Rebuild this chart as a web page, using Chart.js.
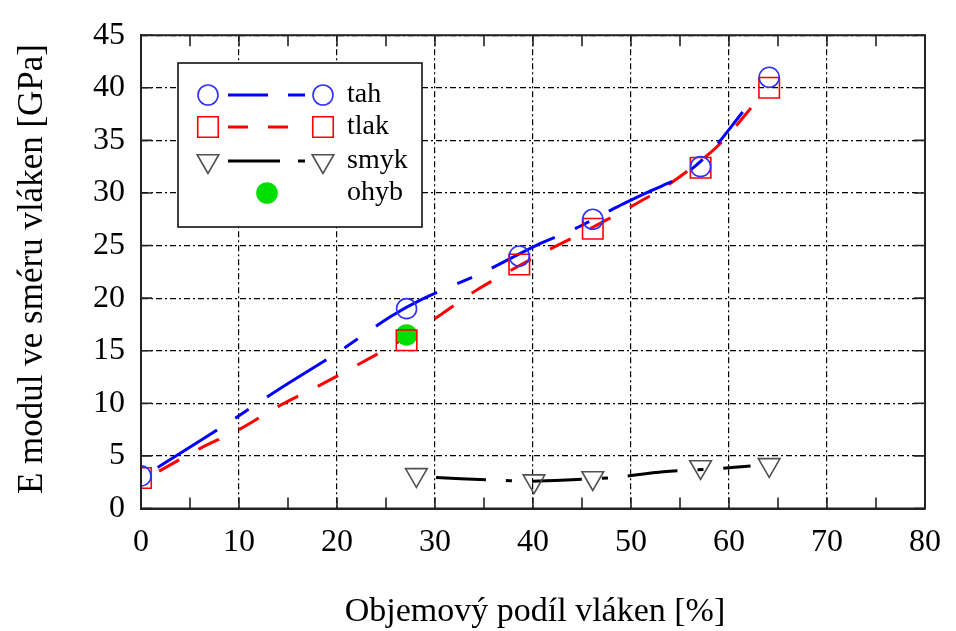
<!DOCTYPE html>
<html>
<head>
<meta charset="utf-8">
<script src="https://cdn.jsdelivr.net/npm/chart.js@4.4.1/dist/chart.umd.min.js"></script>
<style>
    html, body { margin: 0; padding: 0; background: #fff; }
</style>
</head>
<body>
<canvas id="myChart" width="956" height="631"></canvas>
<script>
// measured points
const tahX = [0, 27.1, 38.6, 46.1, 57.1, 64.1];
const tahY = [3.1, 19.0, 24.0, 27.5, 32.5, 41.0];
const tlakX = [0, 27.1, 38.6, 46.1, 57.1, 64.1];
const tlakY = [2.9, 16.0, 23.2, 26.6, 32.4, 40.0];
const smykX = [28.1, 40.1, 46.1, 57.1, 64.1];
const smykY = [3.2, 2.6, 2.9, 3.95, 4.15];
const ohybX = [27.1];
const ohybY = [16.5];

// fitted curves
const tahFitX = [1.7, 8, 14, 20, 25.4, 28.7, 35, 40.3, 44.3, 48, 52, 55.2, 58.2, 61.4];
const tahFitY = [3.9, 7.6, 11.3, 14.8, 18.2, 19.9, 22.5, 25.0, 26.6, 28.4, 30.2, 31.6, 34.0, 37.7];
const tlakFitX = [1.85, 6, 10, 14, 18, 22, 26, 30.7, 34.3, 40.4, 45, 50, 54, 58.2, 60, 62.7];
const tlakFitY = [3.55, 5.7, 7.5, 9.7, 11.6, 13.6, 15.7, 18.5, 20.8, 24.0, 26.2, 28.7, 30.9, 33.9, 35.6, 38.6];
const smykFitX = [30.1, 35.2, 40, 44, 48.1, 53.3, 59, 62.2];
const smykFitY = [2.94, 2.73, 2.6, 2.73, 2.94, 3.5, 3.8, 4.03];

const xTitle = 'Objemový podíl vláken [%]';
const yTitle = 'E modul ve sméru vláken [GPa]';
const serif = "'Liberation Serif', 'Times New Roman', serif";

function toPts(xs, ys) {
    return xs.map(function (x, i) { return { x: x, y: ys[i] }; });
}

function markerSet(label, xs, ys, style, color, fill, radius, rotation) {
    return {
        label: label,
        data: toPts(xs, ys),
        showLine: false,
        pointStyle: style,
        pointRadius: radius,
        pointRotation: rotation || 0,
        pointBorderColor: color,
        pointBackgroundColor: fill,
        pointBorderWidth: 1.6,
        clip: 0,
        order: 1
    };
}

function fitSet(label, xs, ys, color, dash) {
    return {
        label: label,
        data: toPts(xs, ys),
        showLine: true,
        borderColor: color,
        borderWidth: 3,
        borderDash: dash,
        tension: 0.3,
        pointRadius: 0,
        order: 5
    };
}

const data = {
    datasets: [
        markerSet('tah', tahX, tahY, 'circle', '#3030ff', 'rgba(0,0,0,0)', 10),
        markerSet('tlak', tlakX, tlakY, 'rect', '#ff0000', 'rgba(0,0,0,0)', 14.5),
        markerSet('smyk', smykX, smykY, 'triangle', '#505050', 'rgba(0,0,0,0)', 12.5, 180),
        markerSet('ohyb', ohybX, ohybY, 'circle', '#00e000', '#00e000', 10),
        fitSet('tahFit', tahFitX, tahFitY, '#0000ff', [70, 22, 16, 22]),
        fitSet('tlakFit', tlakFitX, tlakFitY, '#ff0000', [23, 22]),
        fitSet('smykFit', smykFitX, smykFitY, '#000000', [50, 20, 6, 20])
    ]
};

// keep markers inside the plot box (points at x = 0 get cut by the axis)
const clipPlugin = {
    id: 'clipToArea',
    beforeDatasetDraw: function (chart) {
        const a = chart.chartArea;
        chart.ctx.save();
        chart.ctx.beginPath();
        chart.ctx.rect(a.left, a.top, a.right - a.left, a.bottom - a.top);
        chart.ctx.clip();
    },
    afterDatasetDraw: function (chart) {
        chart.ctx.restore();
    }
};

// frame, inner ticks, axis titles
const framePlugin = {
    id: 'frame',
    afterDatasetsDraw: function (chart) {
        const ctx = chart.ctx;
        const a = chart.chartArea;
        const xs = chart.scales.x;
        const ys = chart.scales.y;
        ctx.save();
        ctx.strokeStyle = '#222';
        ctx.lineWidth = 1.6;
        ctx.setLineDash([]);
        ctx.beginPath();
        for (let v = 0; v <= 80; v += 5) {
            const px = xs.getPixelForValue(v);
            const len = 11;
            ctx.moveTo(px, a.bottom); ctx.lineTo(px, a.bottom - len);
            ctx.moveTo(px, a.top); ctx.lineTo(px, a.top + len);
        }
        for (let v = 0; v <= 45; v += 5) {
            const py = ys.getPixelForValue(v);
            ctx.moveTo(a.left, py); ctx.lineTo(a.left + 11, py);
            ctx.moveTo(a.right, py); ctx.lineTo(a.right - 11, py);
        }
        ctx.stroke();
        ctx.lineWidth = 2;
        ctx.strokeRect(a.left, a.top, a.right - a.left, a.bottom - a.top);
        ctx.restore();
    },
    afterDraw: function (chart) {
        const ctx = chart.ctx;
        ctx.save();
        ctx.fillStyle = '#000';
        ctx.textAlign = 'center';
        ctx.textBaseline = 'middle';
        ctx.font = '34px ' + serif;
        ctx.fillText(xTitle, 535, 612);
        ctx.translate(33, 269);
        ctx.rotate(-Math.PI / 2);
        ctx.font = '35px ' + serif;
        ctx.fillText(yTitle, 0, 0);
        ctx.restore();
    }
};

// legend box inside the plot, like the original
const legendDash = [[40, 20, 17, 100], [20, 20, 20, 100], [52, 18, 7, 100]];

const boxLegend = {
    id: 'boxLegend',
    afterDraw: function (chart) {
        const ctx = chart.ctx;
        const ds = chart.data.datasets;
        const rows = [
            { m: ds[0], f: ds[4], y: 95 },
            { m: ds[1], f: ds[5], y: 127 },
            { m: ds[2], f: ds[6], y: 161 },
            { m: ds[3], f: null, y: 193 }
        ];
        ctx.save();
        ctx.fillStyle = '#fff';
        ctx.fillRect(178, 63, 244, 164);
        ctx.strokeStyle = '#111';
        ctx.lineWidth = 1.6;
        ctx.strokeRect(178, 63, 244, 164);
        rows.forEach(function (r, i) {
            const m = r.m;
            const opts = {
                pointStyle: m.pointStyle,
                radius: m.pointRadius,
                rotation: m.pointRotation,
                borderWidth: m.pointBorderWidth
            };
            ctx.strokeStyle = m.pointBorderColor;
            ctx.fillStyle = m.pointBackgroundColor;
            ctx.lineWidth = m.pointBorderWidth;
            if (r.f) {
                Chart.helpers.drawPoint(ctx, opts, 208, r.y);
                Chart.helpers.drawPoint(ctx, opts, 323, r.y);
                ctx.save();
                ctx.strokeStyle = r.f.borderColor;
                ctx.lineWidth = r.f.borderWidth;
                ctx.setLineDash(legendDash[i]);
                ctx.beginPath();
                ctx.moveTo(228, r.y);
                ctx.lineTo(305, r.y);
                ctx.stroke();
                ctx.restore();
            } else {
                Chart.helpers.drawPoint(ctx, opts, 267, r.y);
            }
            ctx.fillStyle = '#000';
            ctx.font = '28px ' + serif;
            ctx.textAlign = 'left';
            ctx.textBaseline = 'middle';
            ctx.fillText(m.label, 347, r.y);
        });
        ctx.restore();
    }
};

const gridDash = [6, 3, 2, 3];

const config = {
    type: 'scatter',
    data: data,
    options: {
        responsive: false,
        animation: false,
        events: [],
        layout: {
            padding: { top: 22.5, right: 22.5, left: 0, bottom: 0 }
        },
        plugins: {
            legend: { display: false },
            tooltip: { enabled: false }
        },
        scales: {
            x: {
                type: 'linear',
                min: 0,
                max: 80,
                afterFit: function (scale) { scale.height = 122.5; },
                ticks: {
                    stepSize: 10,
                    padding: 15,
                    color: '#000',
                    maxRotation: 0,
                    font: { family: serif, size: 32 }
                },
                grid: { color: '#000', lineWidth: 1.2, drawTicks: false },
                border: { display: true, color: '#222', width: 2, dash: gridDash }
            },
            y: {
                type: 'linear',
                min: 0,
                max: 45,
                afterFit: function (scale) { scale.width = 141; },
                ticks: {
                    stepSize: 5,
                    padding: 16,
                    color: '#000',
                    font: { family: serif, size: 32 }
                },
                grid: { color: '#000', lineWidth: 1.2, drawTicks: false },
                border: { display: true, color: '#222', width: 2, dash: gridDash }
            }
        }
    },
    plugins: [clipPlugin, framePlugin, boxLegend]
};

(function () {
    const myChart = new Chart(document.getElementById('myChart'), config);
})();
</script>
</body>
</html>
